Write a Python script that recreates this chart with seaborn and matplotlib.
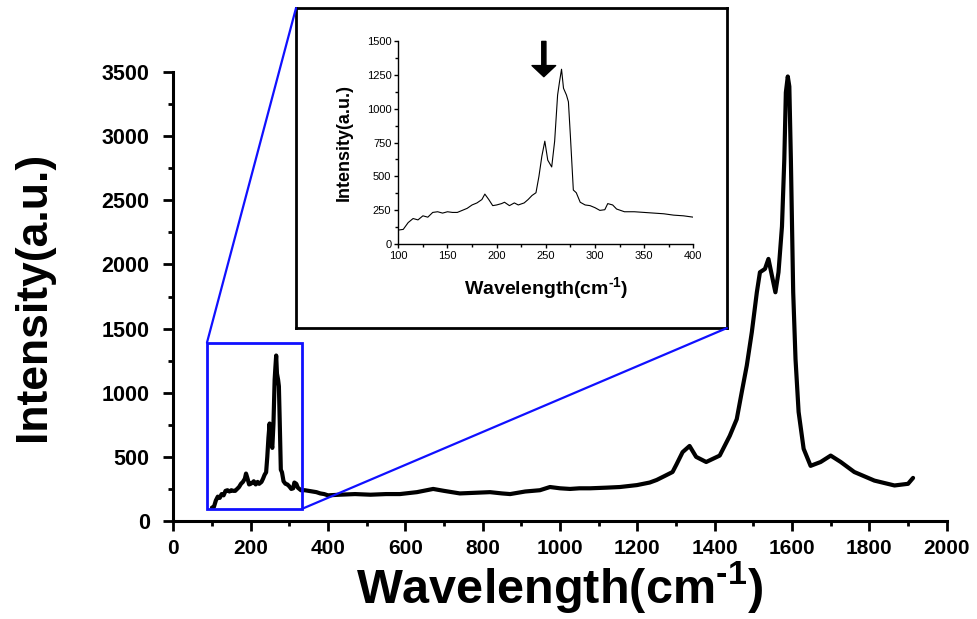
import numpy as np
import pandas as pd
import seaborn as sns
import matplotlib.pyplot as plt
from matplotlib.patches import Rectangle, ConnectionPatch
from matplotlib.ticker import MultipleLocator

# Raman spectrum
wavenumber = [100, 105, 110, 115, 120, 125, 130, 135, 140, 145, 150, 155, 160, 165, 170,
              175, 180, 185, 188, 192, 196, 200, 205, 208, 213, 218, 222, 228, 232, 236,
              240, 243, 246, 249, 252, 256, 259, 262, 264, 266, 268, 271, 273, 275, 278,
              281, 285, 290, 295, 300, 305, 310, 313, 318, 322, 330, 340, 350, 360, 370,
              380, 390, 400,
              430, 470, 510, 550, 586, 630, 672, 700, 741, 780, 819, 850, 871, 910, 948,
              974, 1000, 1026, 1050, 1078, 1120, 1155, 1199, 1232, 1250, 1270, 1291, 1301,
              1317, 1335, 1352, 1378, 1413, 1439, 1457, 1470, 1483, 1496, 1509, 1517, 1530,
              1539, 1548, 1557, 1565, 1574, 1580, 1584, 1589, 1593, 1597, 1603, 1609, 1617,
              1630, 1648, 1674, 1700, 1726, 1761, 1813, 1865, 1900, 1913]
intensity = [105, 110, 160, 190, 180, 210, 200, 235, 240, 230, 240, 235, 235, 250, 265,
             290, 305, 330, 370, 330, 285, 290, 300, 310, 285, 305, 290, 305, 330, 360,
             380, 500, 650, 760, 620, 570, 760, 1100, 1200, 1290, 1150, 1100, 1050, 800, 400,
             380, 310, 290, 285, 270, 250, 255, 300, 290, 260, 240, 240, 235, 230, 225,
             215, 210, 200,
             205, 210, 205, 210, 210, 225, 250, 235, 215, 220, 225, 215, 210, 230, 240,
             265, 255, 250, 255, 255, 260, 265, 280, 300, 320, 350, 382, 440,
             537, 585, 500, 460, 510, 664, 794, 1005, 1212, 1472, 1783, 1939, 1965,
             2043, 1912, 1783, 1939, 2297, 2818, 3340, 3465, 3387, 2818, 1783, 1262, 850,
             563, 430, 460, 510, 460, 382, 315, 277, 290, 336]

zoom_x = [87, 333]
zoom_y = [95, 1390]

df = pd.DataFrame({'wavenumber': wavenumber, 'intensity': intensity})
df_inset = df[df['wavenumber'] <= 400]

sns.set_theme(style='ticks')
plt.rcParams['font.family'] = ['Liberation Sans', 'DejaVu Sans']
plt.rcParams['text.color'] = 'black'
plt.rcParams['axes.labelcolor'] = 'black'
plt.rcParams['xtick.color'] = 'black'
plt.rcParams['ytick.color'] = 'black'
plt.rcParams['mathtext.fontset'] = 'custom'
plt.rcParams['mathtext.rm'] = 'Liberation Sans:bold'
plt.rcParams['mathtext.bf'] = 'Liberation Sans:bold'

fig = plt.figure(figsize=(9.77, 6.19), dpi=100)
ax = fig.add_axes([0.1774, 0.1583, 0.7916, 0.7254])

sns.lineplot(data=df, x='wavenumber', y='intensity', ax=ax, color='black',
             linewidth=3, sort=False, estimator=None)
ax.set_xlim(0, 2000)
ax.set_ylim(0, 3500)
ax.xaxis.set_major_locator(MultipleLocator(200))
ax.xaxis.set_minor_locator(MultipleLocator(100))
ax.yaxis.set_major_locator(MultipleLocator(500))
ax.yaxis.set_minor_locator(MultipleLocator(250))
for s in ['top', 'right']:
    ax.spines[s].set_visible(False)
for s in ['left', 'bottom']:
    ax.spines[s].set_linewidth(2.2)
    ax.spines[s].set_color('black')
ax.tick_params(which='major', direction='out', length=7, width=2)
ax.tick_params(which='minor', direction='out', length=3.5, width=2)
ax.tick_params(axis='y', pad=10, labelsize=15.5)
ax.tick_params(axis='x', pad=6, labelsize=15)
for lab in ax.get_xticklabels() + ax.get_yticklabels():
    lab.set_fontweight('bold')
ax.set_xlabel('Wavelength(cm$^{\\text{-1}}$)', fontsize=35, fontweight='bold', labelpad=1)
ax.set_ylabel('Intensity(a.u.)', fontsize=32, fontweight='bold', labelpad=34)

# blue box around the zoomed part
ax.add_patch(Rectangle((zoom_x[0], zoom_y[0]), zoom_x[1] - zoom_x[0], zoom_y[1] - zoom_y[0],
                       fill=False, edgecolor='#1010ff', linewidth=2, zorder=5))

# frame of the inset
frame = fig.add_axes([0.303, 0.470, 0.441, 0.517])
frame.set_xticks([])
frame.set_yticks([])
frame.set_facecolor('white')
for s in frame.spines.values():
    s.set_linewidth(2)
    s.set_color('black')

for xa, ya, xb, yb in [(zoom_x[0], zoom_y[1], 0.303, 0.987), (zoom_x[1], zoom_y[0], 0.744, 0.470)]:
    con = ConnectionPatch(xyA=(xa, ya), coordsA=ax.transData, xyB=(xb, yb),
                          coordsB=fig.transFigure, color='#1010ff', linewidth=1.6)
    fig.add_artist(con)

ins = fig.add_axes([0.4077, 0.6053, 0.3019, 0.3289])
sns.lineplot(data=df_inset, x='wavenumber', y='intensity', ax=ins, color='black',
             linewidth=0.8, sort=False, estimator=None)
ins.set_xlim(100, 400)
ins.set_ylim(0, 1500)
ins.xaxis.set_major_locator(MultipleLocator(50))
ins.xaxis.set_minor_locator(MultipleLocator(25))
ins.yaxis.set_major_locator(MultipleLocator(250))
ins.yaxis.set_minor_locator(MultipleLocator(125))
for s in ['top', 'right']:
    ins.spines[s].set_visible(False)
for s in ['left', 'bottom']:
    ins.spines[s].set_linewidth(1)
    ins.spines[s].set_color('black')
ins.tick_params(which='major', direction='out', length=3, width=1, labelsize=8, pad=2)
ins.tick_params(which='minor', direction='out', length=2, width=1)
ins.set_xlabel('Wavelength(cm$^{\\text{-1}}$)', fontsize=14, fontweight='bold', labelpad=10)
ins.set_ylabel('Intensity(a.u.)', fontsize=13, fontweight='bold', labelpad=10)
ins.annotate('', xy=(248, 1235), xytext=(248, 1495),
             arrowprops=dict(facecolor='black', edgecolor='black', width=3,
                             headwidth=17, headlength=8))

plt.savefig('out.png', dpi=100)
